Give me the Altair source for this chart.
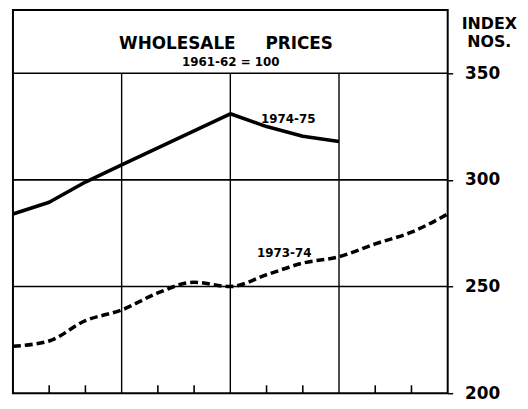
import altair as alt
import pandas as pd

# Data (index numbers, 1961-62 = 100), months April..March
months_7475 = [0, 1, 2, 3, 4, 5, 6, 7, 8, 9]
values_7475 = [284, 289.5, 299, 307, 315, 323, 331, 325, 320.5, 318]
months_7374 = [0, 1, 2, 3, 4, 5, 6, 7, 8, 9, 10, 11, 12]
values_7374 = [222, 224.5, 234, 239, 247, 252, 250, 255.5, 261, 264, 270, 275.5, 284]
y_ticks = [200, 250, 300, 350]
h_grid = [250, 300, 350]
v_grid = [3, 6, 9]
minor_ticks = [1, 2, 4, 5, 7, 8, 10, 11]

W, H = 439, 387
FONT = "DejaVu Sans"

xs = alt.Scale(domain=[0, 12], nice=False, zero=False)
ys = alt.Scale(domain=[200, 379.7], nice=False, zero=False)

df75 = pd.DataFrame({"m": months_7475, "v": values_7475})
df74 = pd.DataFrame({"m": months_7374, "v": values_7374})

line75 = alt.Chart(df75).mark_line(color="black", strokeWidth=3.6, strokeJoin="round").encode(
    x=alt.X("m:Q", scale=xs, axis=None),
    y=alt.Y("v:Q", scale=ys, axis=alt.Axis(
        orient="right", values=y_ticks, title=None, grid=False, domain=False,
        tickSize=5, tickColor="black", tickWidth=1.5, labelPadding=12,
        labelFont=FONT, labelFontSize=17, labelFontWeight="bold", labelColor="black")),
)
line74 = alt.Chart(df74).mark_line(color="black", strokeWidth=3.6, strokeDash=[8, 4],
                                   interpolate="monotone").encode(
    x=alt.X("m:Q", scale=xs), y=alt.Y("v:Q", scale=ys))

hg = alt.Chart(pd.DataFrame({"y": h_grid})).mark_rule(color="black", strokeWidth=1.6).encode(
    y=alt.Y("y:Q", scale=ys), x=alt.value(0), x2=alt.value(W))

vg_df = pd.DataFrame({"x": v_grid})
vg_df["top"] = y_ticks[-1]
vg_df["bot"] = y_ticks[0]
vg = alt.Chart(vg_df).mark_rule(color="black", strokeWidth=1.4).encode(
    x=alt.X("x:Q", scale=xs), y=alt.Y("top:Q", scale=ys), y2="bot:Q")

mt_df = pd.DataFrame({"x": minor_ticks})
mt_df["bot"] = y_ticks[0]
mt_df["top"] = y_ticks[0] + 3.7
mt = alt.Chart(mt_df).mark_rule(color="black", strokeWidth=1.6).encode(
    x=alt.X("x:Q", scale=xs), y=alt.Y("bot:Q", scale=ys), y2="top:Q")

def txt(t, x, y, size, weight="bold"):
    return alt.Chart(pd.DataFrame({"t": [t]})).mark_text(
        font=FONT, fontSize=size, fontWeight=weight, color="black",
        align="center", baseline="middle").encode(
        text="t:N", x=alt.value(x), y=alt.value(y))

labels = [
    txt("WHOLESALE", 166, 34, 17),
    txt("PRICES", 289, 34, 17),
    txt("1961-62 = 100", 220, 53, 12),
    txt("1974-75", 278, 110, 12),
    txt("1973-74", 274, 245, 12),
    txt("INDEX", 481, 14, 16),
    txt("NOS.", 481, 32, 16),
]

chart = alt.layer(line75, line74, hg, vg, mt, *labels).properties(
    width=W, height=H,
    autosize=alt.AutoSizeParams(type="none"),
    padding={"left": 5, "top": 0, "right": 73, "bottom": 12},
).configure_view(stroke="black", strokeWidth=2)

chart.save("out.html", embed_options={"renderer": "svg", "actions": False})
